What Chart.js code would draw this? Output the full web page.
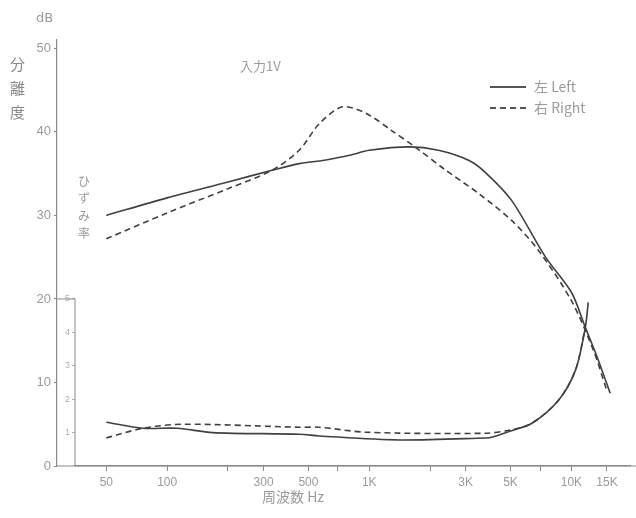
<!DOCTYPE html>
<html>
<head>
<meta charset="utf-8">
<script src="https://cdn.jsdelivr.net/npm/chart.js@4.4.1/dist/chart.umd.min.js"></script>
<style>
  body { margin: 0; background: #fff; }
  #wrap { position: relative; width: 636px; height: 518px; font-family: "DejaVu Sans", "Noto Sans CJK JP", sans-serif; color: #9a9a9a; }
  #wrap canvas { position: absolute; left: 0; top: 0; }
  .lbl { position: absolute; white-space: nowrap; }
  .vert { position: absolute; font-family: "Noto Sans CJK JP", sans-serif; line-height: 1.6; text-align: center; }
  .key { position: absolute; width: 36px; height: 0; border-top: 2px solid #555; }
</style>
</head>
<body>
<div id="wrap">
  <canvas id="sepChart" width="636" height="518"></canvas>
  <div class="lbl" style="left:36px; top:10px; font-size:13px;">dB</div>
  <div class="vert" style="left:10px; top:52px; font-size:15px; color:#888;">分<br>離<br>度</div>
  <div class="vert" style="left:78px; top:172px; font-size:12px; line-height:1.45; color:#999;">ひ<br>ず<br>み<br>率</div>
  <div class="lbl" style="left:240px; top:56px; font-size:13px; font-family:'Noto Sans CJK JP';">入力1V</div>
  <div class="key" style="left:490px; top:86px;"></div>
  <div class="key" style="left:490px; top:107px; border-top-style:dashed;"></div>
  <div class="lbl" style="left:534px; top:76px; font-size:14px; font-family:'Noto Sans CJK JP';">左 Left</div>
  <div class="lbl" style="left:534px; top:97px; font-size:14px; font-family:'Noto Sans CJK JP';">右 Right</div>
  <div class="lbl" style="left:262px; top:486px; font-size:14px; font-family:'Noto Sans CJK JP';">周波数 Hz</div>
</div>
<script>
// 分離度 (dB)
const sepFreqL = [50, 100, 200, 330, 450, 600, 800, 1000, 1570, 2200, 3100, 3770, 5060, 7450, 10000, 11720, 13580, 15560];
const sepLeft  = [30.0, 32.1, 34.0, 35.4, 36.2, 36.6, 37.2, 37.8, 38.2, 37.8, 36.6, 35.1, 31.8, 25.0, 20.8, 16.6, 12.7, 8.7];
const sepFreqR = [50, 100, 200, 330, 450, 567, 736, 967, 1300, 1705, 2394, 3484, 5060, 6877, 10000, 12830, 14900];
const sepRight = [27.2, 30.3, 33.2, 35.4, 37.8, 41.0, 43.0, 42.2, 40.1, 38.1, 35.4, 32.6, 29.4, 25.8, 19.8, 13.9, 9.2];

// ひずみ率 (%)
const distFreqL = [50, 76, 112, 168, 452, 567, 1400, 3770, 4030, 5000, 6380, 8640, 10480, 11720, 12120];
const distLeft  = [1.31, 1.13, 1.13, 1.0, 0.95, 0.9, 0.78, 0.84, 0.86, 1.05, 1.28, 1.97, 2.87, 4.15, 4.9];
const distFreqR = [50, 76, 120, 452, 567, 967, 3770, 5000, 6380, 8640, 10480, 11720];
const distRight = [0.84, 1.13, 1.25, 1.16, 1.16, 1.01, 0.98, 1.08, 1.28, 1.97, 2.87, 4.15];

const xTickValues = [50, 100, 200, 300, 500, 700, 1000, 2000, 3000, 5000, 7000, 10000, 15000];
const xTickLabels = ['50', '100', '', '300', '500', '', '1K', '', '3K', '5K', '', '10K', '15K'];
const dbTicks = [0, 10, 20, 30, 40, 50];
const pctTicks = [1, 2, 3, 4, 5];

const pts = (xs, ys) => xs.map((x, i) => ({ x: x, y: ys[i] }));
const lineCol = '#404040';
const axisCol = '#8a8a8a';

function series(xs, ys, axis, dashed) {
    return {
        data: pts(xs, ys),
        yAxisID: axis,
        borderColor: lineCol,
        borderWidth: 1.6,
        borderDash: dashed ? [6, 4] : [],
        pointRadius: 0,
        tension: 0.3,
        fill: false
    };
}

// inner % strip frame + x axis line running on to the dB axis
const stripFrame = {
    id: 'stripFrame',
    afterDraw(chart) {
        const c = chart.ctx;
        const y2 = chart.scales.y2;
        const top = y2.getPixelForValue(5);
        const bottom = y2.getPixelForValue(0);
        c.save();
        c.strokeStyle = axisCol;
        c.lineWidth = 1;
        c.beginPath();
        c.moveTo(y2.left, top);
        c.lineTo(y2.right, top);
        c.lineTo(y2.right, bottom);
        c.stroke();
        c.lineWidth = 1.2;
        c.beginPath();
        c.moveTo(y2.left, bottom);
        c.lineTo(chart.width, bottom);
        c.stroke();
        c.restore();
    }
};

const ctx = document.getElementById('sepChart').getContext('2d');
new Chart(ctx, {
    type: 'line',
    data: {
        datasets: [
            series(sepFreqL, sepLeft, 'y', false),
            series(sepFreqR, sepRight, 'y', true),
            series(distFreqL, distLeft, 'y2', false),
            series(distFreqR, distRight, 'y2', true)
        ]
    },
    options: {
        responsive: false,
        animation: false,
        layout: { padding: { top: 40, right: 6, left: 0, bottom: 0 } },
        plugins: { legend: { display: false }, tooltip: { enabled: false } },
        scales: {
            x: {
                type: 'logarithmic',
                min: 35,
                max: 19500,
                afterBuildTicks: (s) => { s.ticks = xTickValues.map(v => ({ value: v })); },
                afterFit: (s) => { s.height = 52; },
                ticks: {
                    autoSkip: false,
                    maxRotation: 0,
                    color: '#9a9a9a',
                    font: { size: 12 },
                    padding: 4,
                    callback: (v, i) => xTickLabels[i]
                },
                grid: { drawOnChartArea: false, tickLength: 5, color: axisCol },
                border: { color: axisCol, width: 1.2 }
            },
            y: {
                position: 'left',
                weight: 1,
                min: 0,
                max: 51,
                afterBuildTicks: (s) => { s.ticks = dbTicks.map(v => ({ value: v })); },
                afterFit: (s) => { s.width = 57; },
                ticks: { color: '#9a9a9a', font: { size: 13 }, padding: 3 },
                grid: { drawOnChartArea: false, tickLength: 3, color: axisCol },
                border: { color: axisCol, width: 1.2 }
            },
            y2: {
                position: 'left',
                weight: 0,
                min: 0,
                max: 12.75,
                afterBuildTicks: (s) => { s.ticks = pctTicks.map(v => ({ value: v })); },
                afterFit: (s) => { s.width = 18; },
                ticks: { color: '#b0b0b0', font: { size: 9 }, padding: 2 },
                grid: { drawOnChartArea: false, tickLength: 3, color: '#b0b0b0' },
                border: { display: false }
            }
        }
    },
    plugins: [stripFrame]
});
</script>
</body>
</html>
